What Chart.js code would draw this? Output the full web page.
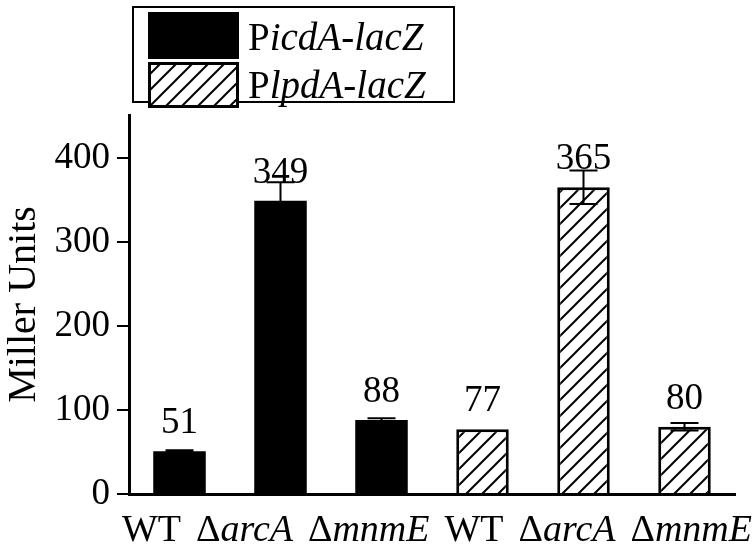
<!DOCTYPE html>
<html><head><meta charset="utf-8">
<script src="https://cdn.jsdelivr.net/npm/chart.js@4/dist/chart.umd.min.js"></script>
<style>html,body{margin:0;padding:0;background:#fff}#wrap{width:756px;height:553px}</style>
</head><body><div id="wrap"><canvas id="c" width="756" height="553"></canvas></div>
<script>
const categories = ['WT','ΔarcA','ΔmnmE','WT','ΔarcA','ΔmnmE'];
const seriesNames = ['PicdA-lacZ','PlpdA-lacZ'];
const icdValues = [51,349,88,null,null,null];
const icdErrors = [1,22,2,null,null,null];
const lpdValues = [null,null,null,77,365,80];
const lpdErrors = [null,null,null,0,20,4.5];
const yTicks = [0,100,200,300,400];

const FONT = 'Liberation Serif';
const ctx0 = document.getElementById('c').getContext('2d');

function makeHatch(){
  const s = 16;
  const c = document.createElement('canvas'); c.width = s; c.height = s;
  const g = c.getContext('2d');
  g.fillStyle = '#fff'; g.fillRect(0,0,s,s);
  g.strokeStyle = '#000'; g.lineWidth = 2;
  g.beginPath();
  g.moveTo(-2, s+2); g.lineTo(s+2, -2);
  g.moveTo(-s/2-2, s/2+2); g.lineTo(s/2+2, -s/2-2);
  g.moveTo(s/2-2, s*1.5+2); g.lineTo(s*1.5+2, s/2-2);
  g.stroke();
  return ctx0.createPattern(c, 'repeat');
}
const hatch = makeHatch();

function splitLabel(lbl){
  if (lbl.startsWith('Δ')) return ['Δ', lbl.slice(1)];
  if (lbl.startsWith('P')) return ['P', lbl.slice(1)];
  return [lbl, ''];
}
function measureMixed(ctx, parts, size){
  ctx.font = size + 'px "' + FONT + '"';
  const w1 = ctx.measureText(parts[0]).width;
  ctx.font = 'italic ' + size + 'px "' + FONT + '"';
  const w2 = ctx.measureText(parts[1]).width;
  return [w1, w2];
}
// upright prefix + italic remainder, left aligned at x
function mixedText(ctx, parts, x, y, size){
  const w = measureMixed(ctx, parts, size);
  ctx.textAlign = 'left';
  ctx.font = size + 'px "' + FONT + '"';
  ctx.fillText(parts[0], x, y);
  ctx.font = 'italic ' + size + 'px "' + FONT + '"';
  ctx.fillText(parts[1], x + w[0], y);
  return w[0] + w[1];
}

const extras = {
  id: 'extras',
  afterDatasetsDraw(chart){
    const ctx = chart.ctx;
    const y = chart.scales.y;
    const errs = [icdErrors, lpdErrors];
    ctx.save();
    ctx.strokeStyle = '#000'; ctx.lineWidth = 2; ctx.fillStyle = '#000';
    chart.data.datasets.forEach((ds, di) => {
      const meta = chart.getDatasetMeta(di);
      meta.data.forEach((bar, i) => {
        const v = ds.data[i];
        if (v === null || v === undefined) return;
        const e = errs[di][i] || 0;
        const cx = bar.x;
        if (e > 0){
          const yt = y.getPixelForValue(v + e), yb = y.getPixelForValue(v - e);
          ctx.beginPath();
          ctx.moveTo(cx, yt); ctx.lineTo(cx, yb);
          ctx.moveTo(cx - 14, yt); ctx.lineTo(cx + 14, yt);
          ctx.moveTo(cx - 14, yb); ctx.lineTo(cx + 14, yb);
          ctx.stroke();
        }
        ctx.font = '37px "' + FONT + '"';
        ctx.textAlign = 'center'; ctx.textBaseline = 'alphabetic';
        ctx.fillText(String(v), cx, y.getPixelForValue(v) - 18);
      });
    });
    ctx.restore();
  },
  afterDraw(chart){
    const ctx = chart.ctx;
    const area = chart.chartArea;
    ctx.save();
    ctx.fillStyle = '#000'; ctx.textBaseline = 'alphabetic';
    // category labels set as one run of text under the axis
    const size = 38;
    const parts = categories.map(splitLabel);
    const widths = parts.map(p => { const w = measureMixed(ctx, p, size); return w[0] + w[1]; });
    const x0 = area.left - 7, x1 = area.right + 17;
    const gap = (x1 - x0 - widths.reduce((a, b) => a + b, 0)) / (parts.length - 1);
    let cx = x0;
    parts.forEach((p, i) => { mixedText(ctx, p, cx, 541, size); cx += widths[i] + gap; });
    // legend
    ctx.strokeStyle = '#000'; ctx.lineWidth = 2;
    ctx.strokeRect(133, 7, 321, 95);
    ctx.fillStyle = '#000';
    ctx.fillRect(148, 12, 91, 47);
    ctx.fillStyle = hatch;
    ctx.fillRect(148, 62, 91, 46);
    ctx.lineWidth = 3;
    ctx.strokeRect(149.5, 63.5, 88, 43);
    ctx.fillStyle = '#000';
    mixedText(ctx, splitLabel(seriesNames[0]), 248, 50, 39);
    mixedText(ctx, splitLabel(seriesNames[1]), 248, 98, 39);
    ctx.restore();
  }
};

new Chart(ctx0, {
  type: 'bar',
  data: {
    labels: categories,
    datasets: [
      { label: seriesNames[0], data: icdValues, backgroundColor: '#000', borderWidth: 0 },
      { label: seriesNames[1], data: lpdValues, backgroundColor: hatch, borderColor: '#000', borderWidth: 3 }
    ]
  },
  options: {
    responsive: false, animation: false,
    datasets: { bar: { grouped: false, barPercentage: 0.52, categoryPercentage: 1 } },
    layout: { padding: { top: 115, right: 21, left: 0, bottom: 0 } },
    plugins: { legend: { display: false }, tooltip: { enabled: false } },
    scales: {
      x: {
        grid: { display: false, drawTicks: false },
        border: { display: true, color: '#000', width: 3 },
        ticks: { display: false },
        afterFit(s){ s.height = 59; }
      },
      y: {
        min: 0, max: 451,
        afterBuildTicks(s){ s.ticks = yTicks.map(v => ({ value: v })); },
        grid: { drawOnChartArea: false, drawTicks: true, tickLength: 12, color: '#000', lineWidth: 2 },
        border: { display: true, color: '#000', width: 3 },
        ticks: { font: { family: FONT, size: 37 }, color: '#000', padding: 7 },
        title: { display: true, text: 'Miller Units', font: { family: FONT, size: 40 }, color: '#000', padding: 0 },
        afterFit(s){ s.width = 129; }
      }
    }
  },
  plugins: [extras]
});
</script></body></html>
